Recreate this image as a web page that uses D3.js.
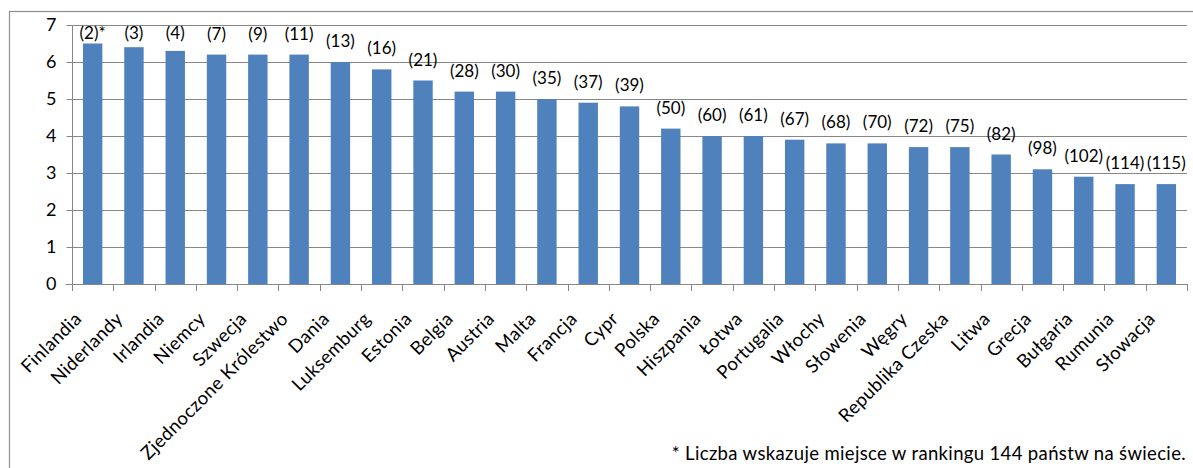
<!DOCTYPE html>
<html>
<head>
<meta charset="utf-8">
<script src="https://cdn.jsdelivr.net/npm/d3@7"></script>
<style>
  html, body { margin: 0; padding: 0; background: #fff; }
  svg text { font-family: Lato, "Open Sans", sans-serif; fill: #000; }
</style>
</head>
<body>
<svg id="chart" width="1193" height="468"></svg>
<script>
const categories = ["Finlandia","Niderlandy","Irlandia","Niemcy","Szwecja","Zjednoczone Królestwo","Dania","Luksemburg","Estonia","Belgia","Austria","Malta","Francja","Cypr","Polska","Hiszpania","Łotwa","Portugalia","Włochy","Słowenia","Węgry","Republika Czeska","Litwa","Grecja","Bułgaria","Rumunia","Słowacja"];
const values = [6.5,6.4,6.3,6.2,6.2,6.2,6.0,5.8,5.5,5.2,5.2,5.0,4.9,4.8,4.2,4.0,4.0,3.9,3.8,3.8,3.7,3.7,3.5,3.1,2.9,2.7,2.7];
const rankLabels = ["(2)*","(3)","(4)","(7)","(9)","(11)","(13)","(16)","(21)","(28)","(30)","(35)","(37)","(39)","(50)","(60)","(61)","(67)","(68)","(70)","(72)","(75)","(82)","(98)","(102)","(114)","(115)"];
const yTicks = [0,1,2,3,4,5,6,7];
const footnote = "* Liczba wskazuje miejsce w rankingu 144 państw na świecie.";

const data = categories.map((c, i) => ({ name: c, value: values[i], label: rankLabels[i] }));

const svg = d3.select("#chart");
const pLeft = 72, pRight = 1187, pTop = 25, pBottom = 284;

// outer frame
svg.append("rect").attr("x", 9.5).attr("y", 11.5).attr("width", 1200).attr("height", 500)
  .attr("fill", "none").attr("stroke", "#8e8e8e").attr("stroke-width", 1.2);

const x = d3.scaleBand().domain(categories).range([pLeft, pRight]).paddingInner(0.53).paddingOuter(0.265);
const y = d3.scaleLinear().domain([0, 7]).range([pBottom, pTop]);

// gridlines
svg.append("g").selectAll("line").data(yTicks.filter(t => t > 0)).join("line")
  .attr("x1", pLeft).attr("x2", pRight)
  .attr("y1", d => Math.round(y(d)) + 0.5).attr("y2", d => Math.round(y(d)) + 0.5)
  .attr("stroke", "#878787").attr("stroke-width", 1);

// y axis
const yAxis = d3.axisLeft(y).tickValues(yTicks).tickSize(6).tickPadding(10).tickFormat(d3.format("d"));
const gy = svg.append("g").attr("transform", `translate(${pLeft + 0.5},0)`).call(yAxis);
gy.selectAll("line, path").attr("stroke", "#878787");
gy.select(".domain").attr("d", `M0,${pTop}V${pBottom}`);
gy.selectAll("text").attr("font-size", 18).style("font-family", "Lato, sans-serif").attr("fill", "#000");

// bars
svg.append("g").selectAll("rect").data(data).join("rect")
  .attr("x", d => x(d.name)).attr("width", x.bandwidth())
  .attr("y", d => y(d.value)).attr("height", d => y(0) - y(d.value))
  .attr("fill", "#4F81BD");

// x axis baseline and tick marks at category boundaries
const step = x.step();
const x0 = x(categories[0]) - x.paddingOuter() * step;
const gx = svg.append("g");
gx.append("line").attr("x1", pLeft - 6).attr("x2", pRight).attr("y1", pBottom + 0.5).attr("y2", pBottom + 0.5)
  .attr("stroke", "#878787");
gx.selectAll("line.tk").data(d3.range(categories.length + 1)).join("line").attr("class", "tk")
  .attr("x1", i => Math.round(x0 + i * step) + 0.5).attr("x2", i => Math.round(x0 + i * step) + 0.5)
  .attr("y1", pBottom).attr("y2", pBottom + 7).attr("stroke", "#878787");

// value (rank) labels
svg.append("g").selectAll("text").data(data).join("text")
  .attr("x", d => x(d.name) + x.bandwidth() / 2)
  .attr("y", d => Math.max(y(d.value) - 15, 39))
  .attr("text-anchor", "middle").attr("font-size", 17)
  .text(d => d.label);

// category labels rotated
svg.append("g").selectAll("text").data(data).join("text")
  .attr("transform", d => {
    const cx = x(d.name) + x.bandwidth() / 2 - 10;
    const cy = 320;
    return `translate(${cx},${cy}) rotate(-45)`;
  })
  .attr("text-anchor", "end").attr("font-size", 18.5).attr("letter-spacing", 0.35)
  .text(d => d.name);

// footnote
svg.append("text").attr("x", 1186).attr("y", 460).attr("text-anchor", "end").attr("font-size", 18.5)
  .attr("letter-spacing", 0.35)
  .text(footnote);
</script>
</body>
</html>
